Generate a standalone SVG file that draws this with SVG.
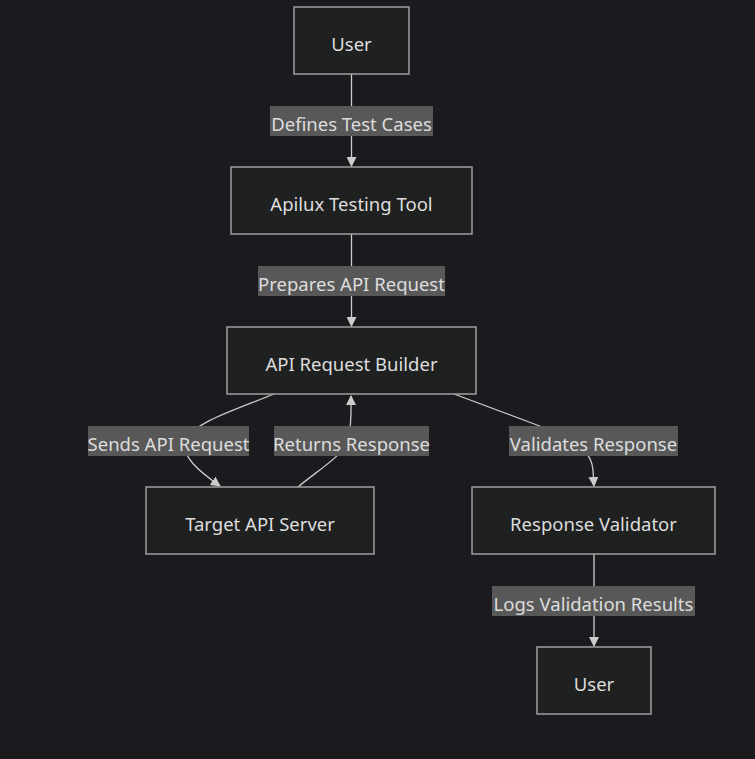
<svg xmlns="http://www.w3.org/2000/svg" width="755" height="759" viewBox="0 0 755 759">
<defs>
<style>
.node rect{fill:#1f2020;stroke:#9e9e9e;stroke-width:1.5}
.node text{fill:#dddddd;font-family:"Noto Sans","DejaVu Sans",sans-serif;font-size:18.5px;text-anchor:middle;dominant-baseline:central}
.edges path{fill:none;stroke:#cccccc;stroke-width:1.3}
.lbl rect{fill:#585858}
.lbl text{fill:#dddddd;font-family:"Noto Sans","DejaVu Sans",sans-serif;font-size:18.5px;text-anchor:middle;dominant-baseline:central}
</style>
<marker id="arr" viewBox="0 0 10 10" refX="9" refY="5" markerWidth="10" markerHeight="10" markerUnits="userSpaceOnUse" orient="auto">
<path d="M0,0 L10,5 L0,10 z" fill="#cccccc"/>
</marker>
</defs>
<rect width="755" height="759" fill="#1b1b1f"/>
<g class="edges">
<path d="M351.5,74 L351.5,166" marker-end="url(#arr)"/>
<path d="M351.5,234 L351.5,326" marker-end="url(#arr)"/>
<path d="M274,394 C235,410 195,422 185,440 C180,456 200,472 220,486" marker-end="url(#arr)"/>
<path d="M298,487 C318,470 343,456 348,440 C352,424 351,410 351,396" marker-end="url(#arr)"/>
<path d="M454,394 L545,428 C585,442 592,458 593,470 L594,486" marker-end="url(#arr)"/>
<path d="M594,554 L594,646" marker-end="url(#arr)"/>
</g>
<g class="lbl">
<rect x="270" y="106" width="163" height="30"/><text x="351.5" y="123">Defines Test Cases</text>
<rect x="258" y="266" width="187" height="30"/><text x="351.5" y="283">Prepares API Request</text>
<rect x="88" y="426" width="161" height="30"/><text x="168.5" y="443">Sends API Request</text>
<rect x="274" y="426" width="155" height="30"/><text x="351.5" y="443">Returns Response</text>
<rect x="509" y="426" width="169" height="30"/><text x="593.5" y="443">Validates Response</text>
<rect x="492" y="586" width="203" height="30"/><text x="593.5" y="603">Logs Validation Results</text>
</g>
<g id="user" class="node"><rect x="294" y="7" width="115" height="67"/><text x="351.5" y="43">User</text></g>
<g id="apilux" class="node"><rect x="231" y="167" width="241" height="67"/><text x="351.5" y="203">Apilux Testing Tool</text></g>
<g id="builder" class="node"><rect x="227" y="327" width="249" height="67"/><text x="351.5" y="363">API Request Builder</text></g>
<g id="target" class="node"><rect x="146" y="487" width="228" height="67"/><text x="260" y="523">Target API Server</text></g>
<g id="validator" class="node"><rect x="472" y="487" width="243" height="67"/><text x="593.5" y="523">Response Validator</text></g>
<g id="user2" class="node"><rect x="537" y="647" width="114" height="67"/><text x="594" y="683">User</text></g>
</svg>
